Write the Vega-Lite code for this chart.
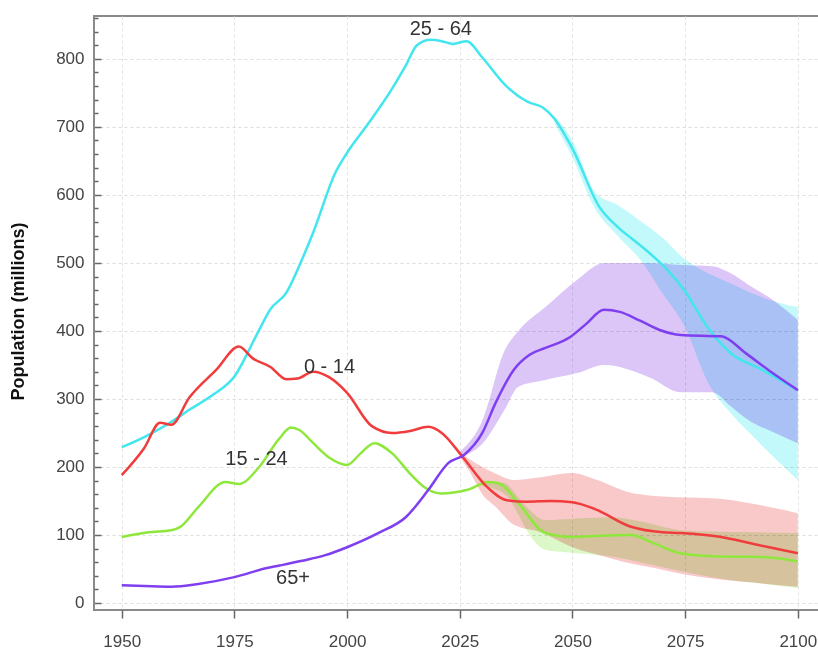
{
  "$schema": "https://vega.github.io/schema/vega-lite/v6.json",
  "width": 725,
  "height": 594,
  "autosize": "none",
  "padding": {"left": 94, "top": 16, "right": 0, "bottom": 39},
  "background": "white",
  "config": {"view": {"stroke": "#8a8a8a", "strokeWidth": 2}, "font": "Liberation Sans"},
  "datasets": {
    "bands": [
      {"series": "25 - 64", "year": 2046, "lo": 705, "hi": 716},
      {"series": "25 - 64", "year": 2050, "lo": 655, "hi": 680},
      {"series": "25 - 64", "year": 2055, "lo": 580, "hi": 604},
      {"series": "25 - 64", "year": 2060, "lo": 540, "hi": 585},
      {"series": "25 - 64", "year": 2065, "lo": 505, "hi": 562},
      {"series": "25 - 64", "year": 2070, "lo": 455, "hi": 537},
      {"series": "25 - 64", "year": 2075, "lo": 405, "hi": 505},
      {"series": "25 - 64", "year": 2080, "lo": 325, "hi": 485},
      {"series": "25 - 64", "year": 2085, "lo": 280, "hi": 470},
      {"series": "25 - 64", "year": 2090, "lo": 245, "hi": 455},
      {"series": "25 - 64", "year": 2095, "lo": 212, "hi": 443},
      {"series": "25 - 64", "year": 2100, "lo": 181, "hi": 435},
      {"series": "15 - 24", "year": 2030, "lo": 172, "hi": 180},
      {"series": "15 - 24", "year": 2035, "lo": 160, "hi": 176},
      {"series": "15 - 24", "year": 2038, "lo": 130, "hi": 155},
      {"series": "15 - 24", "year": 2040, "lo": 105, "hi": 140},
      {"series": "15 - 24", "year": 2044, "lo": 78, "hi": 122},
      {"series": "15 - 24", "year": 2050, "lo": 74, "hi": 124},
      {"series": "15 - 24", "year": 2059, "lo": 68, "hi": 126},
      {"series": "15 - 24", "year": 2065, "lo": 60, "hi": 120},
      {"series": "15 - 24", "year": 2074, "lo": 47, "hi": 107},
      {"series": "15 - 24", "year": 2081, "lo": 38, "hi": 105},
      {"series": "15 - 24", "year": 2090, "lo": 30, "hi": 104},
      {"series": "15 - 24", "year": 2100, "lo": 22, "hi": 103},
      {"series": "0 - 14", "year": 2025, "lo": 215, "hi": 222},
      {"series": "0 - 14", "year": 2027, "lo": 195, "hi": 212},
      {"series": "0 - 14", "year": 2030, "lo": 160, "hi": 200},
      {"series": "0 - 14", "year": 2033, "lo": 141, "hi": 190},
      {"series": "0 - 14", "year": 2037, "lo": 115, "hi": 181},
      {"series": "0 - 14", "year": 2043, "lo": 104, "hi": 185},
      {"series": "0 - 14", "year": 2050, "lo": 82, "hi": 191},
      {"series": "0 - 14", "year": 2055, "lo": 72, "hi": 182},
      {"series": "0 - 14", "year": 2063, "lo": 58, "hi": 162},
      {"series": "0 - 14", "year": 2067, "lo": 53, "hi": 158},
      {"series": "0 - 14", "year": 2075, "lo": 42, "hi": 155},
      {"series": "0 - 14", "year": 2081, "lo": 36, "hi": 154},
      {"series": "0 - 14", "year": 2090, "lo": 30, "hi": 146},
      {"series": "0 - 14", "year": 2100, "lo": 24, "hi": 132},
      {"series": "65+", "year": 2025, "lo": 214, "hi": 222},
      {"series": "65+", "year": 2030, "lo": 234, "hi": 268},
      {"series": "65+", "year": 2035, "lo": 285, "hi": 372},
      {"series": "65+", "year": 2038, "lo": 318, "hi": 400},
      {"series": "65+", "year": 2044, "lo": 328, "hi": 435},
      {"series": "65+", "year": 2051, "lo": 338, "hi": 475},
      {"series": "65+", "year": 2057, "lo": 350, "hi": 500},
      {"series": "65+", "year": 2067, "lo": 332, "hi": 500},
      {"series": "65+", "year": 2074, "lo": 310, "hi": 497},
      {"series": "65+", "year": 2081, "lo": 310, "hi": 495},
      {"series": "65+", "year": 2085, "lo": 290, "hi": 485},
      {"series": "65+", "year": 2089, "lo": 269, "hi": 468},
      {"series": "65+", "year": 2095, "lo": 250, "hi": 443},
      {"series": "65+", "year": 2100, "lo": 235, "hi": 416}
    ],
    "lines": [
      {"series": "25 - 64", "year": 1950, "value": 229},
      {"series": "25 - 64", "year": 1955, "value": 244},
      {"series": "25 - 64", "year": 1960, "value": 262},
      {"series": "25 - 64", "year": 1965, "value": 284},
      {"series": "25 - 64", "year": 1970, "value": 305},
      {"series": "25 - 64", "year": 1975, "value": 333},
      {"series": "25 - 64", "year": 1980, "value": 395},
      {"series": "25 - 64", "year": 1983, "value": 432},
      {"series": "25 - 64", "year": 1986.5, "value": 456},
      {"series": "25 - 64", "year": 1990, "value": 505},
      {"series": "25 - 64", "year": 1992.5, "value": 545},
      {"series": "25 - 64", "year": 1997.5, "value": 634},
      {"series": "25 - 64", "year": 2000, "value": 662},
      {"series": "25 - 64", "year": 2004.5, "value": 703},
      {"series": "25 - 64", "year": 2009.5, "value": 751},
      {"series": "25 - 64", "year": 2013, "value": 790},
      {"series": "25 - 64", "year": 2015.5, "value": 820},
      {"series": "25 - 64", "year": 2018.5, "value": 828},
      {"series": "25 - 64", "year": 2021, "value": 826},
      {"series": "25 - 64", "year": 2023.5, "value": 822},
      {"series": "25 - 64", "year": 2026.5, "value": 826},
      {"series": "25 - 64", "year": 2030, "value": 802},
      {"series": "25 - 64", "year": 2035, "value": 762},
      {"series": "25 - 64", "year": 2040, "value": 737},
      {"series": "25 - 64", "year": 2043.5, "value": 728},
      {"series": "25 - 64", "year": 2046, "value": 712},
      {"series": "25 - 64", "year": 2050, "value": 668},
      {"series": "25 - 64", "year": 2056, "value": 582},
      {"series": "25 - 64", "year": 2060, "value": 553},
      {"series": "25 - 64", "year": 2063.5, "value": 534},
      {"series": "25 - 64", "year": 2067, "value": 515},
      {"series": "25 - 64", "year": 2071, "value": 490},
      {"series": "25 - 64", "year": 2075, "value": 458},
      {"series": "25 - 64", "year": 2080, "value": 405},
      {"series": "25 - 64", "year": 2085, "value": 368},
      {"series": "25 - 64", "year": 2092, "value": 343},
      {"series": "25 - 64", "year": 2100, "value": 313},
      {"series": "15 - 24", "year": 1950, "value": 97},
      {"series": "15 - 24", "year": 1956, "value": 104},
      {"series": "15 - 24", "year": 1961, "value": 107},
      {"series": "15 - 24", "year": 1963, "value": 112},
      {"series": "15 - 24", "year": 1967, "value": 141},
      {"series": "15 - 24", "year": 1973, "value": 178},
      {"series": "15 - 24", "year": 1976, "value": 175},
      {"series": "15 - 24", "year": 1980.5, "value": 200},
      {"series": "15 - 24", "year": 1985, "value": 242},
      {"series": "15 - 24", "year": 1987.5, "value": 258},
      {"series": "15 - 24", "year": 1989.5, "value": 254},
      {"series": "15 - 24", "year": 1992.5, "value": 235},
      {"series": "15 - 24", "year": 1996, "value": 214},
      {"series": "15 - 24", "year": 2000, "value": 203},
      {"series": "15 - 24", "year": 2003, "value": 220},
      {"series": "15 - 24", "year": 2006, "value": 235},
      {"series": "15 - 24", "year": 2010, "value": 220},
      {"series": "15 - 24", "year": 2014, "value": 190},
      {"series": "15 - 24", "year": 2017, "value": 171},
      {"series": "15 - 24", "year": 2021, "value": 161},
      {"series": "15 - 24", "year": 2026.5, "value": 166},
      {"series": "15 - 24", "year": 2031.5, "value": 178},
      {"series": "15 - 24", "year": 2034, "value": 175},
      {"series": "15 - 24", "year": 2038, "value": 147},
      {"series": "15 - 24", "year": 2044, "value": 103},
      {"series": "15 - 24", "year": 2050, "value": 97},
      {"series": "15 - 24", "year": 2056, "value": 99},
      {"series": "15 - 24", "year": 2063, "value": 100},
      {"series": "15 - 24", "year": 2068, "value": 88},
      {"series": "15 - 24", "year": 2074, "value": 73},
      {"series": "15 - 24", "year": 2080, "value": 69},
      {"series": "15 - 24", "year": 2085, "value": 68},
      {"series": "15 - 24", "year": 2090, "value": 68},
      {"series": "15 - 24", "year": 2095, "value": 66},
      {"series": "15 - 24", "year": 2100, "value": 61},
      {"series": "0 - 14", "year": 1950, "value": 188},
      {"series": "0 - 14", "year": 1955, "value": 228},
      {"series": "0 - 14", "year": 1958.5, "value": 265},
      {"series": "0 - 14", "year": 1961, "value": 262},
      {"series": "0 - 14", "year": 1965, "value": 302},
      {"series": "0 - 14", "year": 1971, "value": 343},
      {"series": "0 - 14", "year": 1976, "value": 377},
      {"series": "0 - 14", "year": 1979, "value": 360},
      {"series": "0 - 14", "year": 1983, "value": 347},
      {"series": "0 - 14", "year": 1986.5, "value": 329},
      {"series": "0 - 14", "year": 1989, "value": 330},
      {"series": "0 - 14", "year": 1992.5, "value": 340},
      {"series": "0 - 14", "year": 1996, "value": 332},
      {"series": "0 - 14", "year": 2000, "value": 309},
      {"series": "0 - 14", "year": 2005.5, "value": 260},
      {"series": "0 - 14", "year": 2010, "value": 250},
      {"series": "0 - 14", "year": 2014, "value": 253},
      {"series": "0 - 14", "year": 2018, "value": 259},
      {"series": "0 - 14", "year": 2021, "value": 250},
      {"series": "0 - 14", "year": 2025.5, "value": 216},
      {"series": "0 - 14", "year": 2031, "value": 171},
      {"series": "0 - 14", "year": 2035.5, "value": 151},
      {"series": "0 - 14", "year": 2040, "value": 149},
      {"series": "0 - 14", "year": 2045, "value": 150},
      {"series": "0 - 14", "year": 2050, "value": 148},
      {"series": "0 - 14", "year": 2055, "value": 138},
      {"series": "0 - 14", "year": 2063, "value": 112},
      {"series": "0 - 14", "year": 2070, "value": 104},
      {"series": "0 - 14", "year": 2074, "value": 103},
      {"series": "0 - 14", "year": 2083, "value": 97},
      {"series": "0 - 14", "year": 2090, "value": 87},
      {"series": "0 - 14", "year": 2095, "value": 80},
      {"series": "0 - 14", "year": 2100, "value": 73},
      {"series": "65+", "year": 1950, "value": 26},
      {"series": "65+", "year": 1955, "value": 25},
      {"series": "65+", "year": 1961, "value": 24},
      {"series": "65+", "year": 1967, "value": 28},
      {"series": "65+", "year": 1975, "value": 38},
      {"series": "65+", "year": 1982, "value": 51},
      {"series": "65+", "year": 1985, "value": 55},
      {"series": "65+", "year": 1990, "value": 62},
      {"series": "65+", "year": 1995, "value": 70},
      {"series": "65+", "year": 2000, "value": 82},
      {"series": "65+", "year": 2007, "value": 103},
      {"series": "65+", "year": 2013, "value": 126},
      {"series": "65+", "year": 2018, "value": 166},
      {"series": "65+", "year": 2022.5, "value": 206},
      {"series": "65+", "year": 2026, "value": 218},
      {"series": "65+", "year": 2030, "value": 250},
      {"series": "65+", "year": 2033, "value": 295},
      {"series": "65+", "year": 2037, "value": 343},
      {"series": "65+", "year": 2040.5, "value": 365},
      {"series": "65+", "year": 2044, "value": 375},
      {"series": "65+", "year": 2049.5, "value": 391},
      {"series": "65+", "year": 2053, "value": 410},
      {"series": "65+", "year": 2057, "value": 431},
      {"series": "65+", "year": 2060.5, "value": 428},
      {"series": "65+", "year": 2065, "value": 415},
      {"series": "65+", "year": 2069.5, "value": 401},
      {"series": "65+", "year": 2074, "value": 394},
      {"series": "65+", "year": 2083, "value": 392},
      {"series": "65+", "year": 2088.5, "value": 367},
      {"series": "65+", "year": 2094, "value": 340},
      {"series": "65+", "year": 2100, "value": 313}
    ],
    "labels": [
      {"label": "25 - 64", "year": 2020.8, "value": 844},
      {"label": "0 - 14", "year": 1996.1, "value": 347},
      {"label": "15 - 24", "year": 1979.9, "value": 212},
      {"label": "65+", "year": 1988, "value": 37}
    ]
  },
  "layer": [
    {
      "data": {"name": "bands"},
      "mark": {"type": "area", "blend": "multiply", "interpolate": "monotone"},
      "encoding": {
        "x": {
          "field": "year", "type": "quantitative",
          "scale": {"domain": [1943.85, 2104.7], "nice": false, "zero": false},
          "axis": {
            "values": [1950, 1975, 2000, 2025, 2050, 2075, 2100],
            "tickCount": 20,
            "format": "d", "title": null, "domain": false,
            "tickSize": 8, "tickColor": "#666", "tickWidth": 1.5,
            "labelPadding": 15, "labelFontSize": 17, "labelColor": "#444",
            "grid": true, "gridDash": [3, 3], "gridColor": "#e2e2e2"
          }
        },
        "y": {
          "field": "lo", "type": "quantitative",
          "scale": {"domain": [-10.3, 863], "nice": false, "zero": false},
          "axis": {
            "values": [0, 20, 40, 60, 80, 100, 120, 140, 160, 180, 200, 220, 240, 260, 280, 300, 320, 340, 360, 380, 400, 420, 440, 460, 480, 500, 520, 540, 560, 580, 600, 620, 640, 660, 680, 700, 720, 740, 760, 780, 800, 820, 840, 860],
            "tickCount": 100,
            "labelOverlap": false,
            "labelExpr": "datum.value % 100 === 0 ? datum.label : ''",
            "tickSize": {"condition": {"test": "datum.value % 100 === 0", "value": -7}, "value": -4},
            "tickColor": "#666", "tickWidth": 1.5,
            "grid": true, "gridDash": [3, 3], "gridColor": "#dcdcdc",
            "gridOpacity": {"condition": {"test": "datum.value % 100 === 0", "value": 1}, "value": 0},
            "domain": false,
            "labelPadding": 17, "labelFontSize": 17, "labelColor": "#444",
            "title": "Population (millions)", "titleFontSize": 18, "titleFontWeight": "bold", "titleColor": "#111",
            "titleX": -76, "titleY": 295, "titleAngle": -90, "titleBaseline": "middle", "titleAlign": "center"
          }
        },
        "y2": {"field": "hi"},
        "color": {
          "field": "series", "type": "nominal",
          "scale": {"domain": ["25 - 64", "15 - 24", "0 - 14", "65+"], "range": ["#c4f9fb", "#dcf8c8", "#f9c8c8", "#dcc6f8"]},
          "legend": null
        }
      }
    },
    {
      "data": {"name": "lines"},
      "mark": {"type": "line", "interpolate": "monotone", "strokeWidth": 2.5},
      "encoding": {
        "x": {"field": "year", "type": "quantitative"},
        "y": {"field": "value", "type": "quantitative"},
        "color": {
          "field": "series", "type": "nominal",
          "scale": {"domain": ["25 - 64", "15 - 24", "0 - 14", "65+"], "range": ["#42e6ee", "#8ee83c", "#f03c3c", "#7f3ff0"]},
          "legend": null
        }
      }
    },
    {
      "data": {"name": "labels"},
      "mark": {"type": "text", "fontSize": 20, "color": "#333", "align": "center", "baseline": "middle", "font": "Liberation Sans"},
      "encoding": {
        "x": {"field": "year", "type": "quantitative"},
        "y": {"field": "value", "type": "quantitative"},
        "text": {"field": "label", "type": "nominal"}
      }
    }
  ],
  "resolve": {"scale": {"color": "independent"}}
}
